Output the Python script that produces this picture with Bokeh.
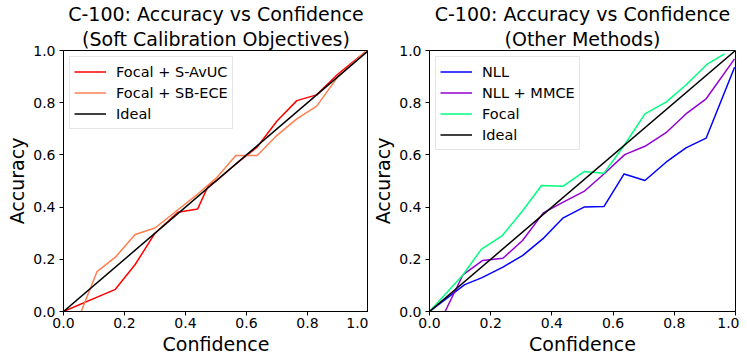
from bokeh.plotting import figure
from bokeh.layouts import row
from bokeh.models import FixedTicker, PrintfTickFormatter, Legend, LegendItem, Title
from bokeh.embed import file_html
from bokeh.resources import INLINE

# ---- data ----
ideal_x = [0.0, 1.0]
ideal_y = [0.0, 1.0]

savuc_conf = [0.0, 0.17, 0.235, 0.30, 0.375, 0.44, 0.475, 0.50, 0.57, 0.635, 0.70, 0.765, 0.83, 0.90, 0.99]
savuc_acc = [0.0, 0.085, 0.18, 0.30, 0.38, 0.393, 0.483, 0.50, 0.57, 0.63, 0.73, 0.808, 0.83, 0.91, 0.995]

sbece_conf = [0.058, 0.11, 0.17, 0.235, 0.30, 0.37, 0.44, 0.50, 0.565, 0.635, 0.70, 0.765, 0.83, 0.90, 0.99]
sbece_acc = [0.0, 0.153, 0.208, 0.295, 0.32, 0.385, 0.45, 0.51, 0.598, 0.598, 0.675, 0.738, 0.787, 0.90, 0.995]

nll_conf = [0.0, 0.115, 0.17, 0.24, 0.305, 0.37, 0.437, 0.505, 0.57, 0.636, 0.704, 0.773, 0.838, 0.904, 0.997]
nll_acc = [0.0, 0.103, 0.129, 0.17, 0.215, 0.278, 0.359, 0.40, 0.402, 0.527, 0.502, 0.572, 0.627, 0.664, 0.936]

mmce_conf = [0.051, 0.109, 0.173, 0.24, 0.304, 0.372, 0.437, 0.505, 0.57, 0.638, 0.704, 0.773, 0.838, 0.904, 0.997]
mmce_acc = [0.0, 0.140, 0.195, 0.204, 0.272, 0.378, 0.419, 0.46, 0.527, 0.601, 0.633, 0.685, 0.757, 0.815, 0.968]

focal_conf = [0.0, 0.109, 0.169, 0.238, 0.305, 0.366, 0.437, 0.505, 0.57, 0.636, 0.704, 0.773, 0.838, 0.909, 0.964]
focal_acc = [0.0, 0.14, 0.238, 0.291, 0.387, 0.483, 0.480, 0.536, 0.530, 0.636, 0.757, 0.802, 0.868, 0.949, 0.987]

tick_vals = [0.0, 0.2, 0.4, 0.6, 0.8, 1.0]

title_main = "C-100: Accuracy vs Confidence"
title_left = "(Soft Calibration Objectives)"
title_right = "(Other Methods)"

FONT = "DejaVu Sans"


def make_fig(line1, line2, border_left, border_right, frame_w):
    p = figure(output_backend="svg", toolbar_location=None,
               frame_width=frame_w, frame_height=261,
               min_border_left=border_left, min_border_right=border_right,
               min_border_top=0, min_border_bottom=0,
               x_range=(0, 1), y_range=(0, 1))
    for txt, so in ((line2, 2), (line1, 0)):
        t = Title(text=txt, align="center", text_font=FONT, text_font_size="19px",
                  text_font_style="normal", text_color="black", standoff=so,
                  text_line_height=1.0)
        p.add_layout(t, "above")
    p.xgrid.visible = False
    p.ygrid.visible = False
    p.outline_line_color = "black"
    p.outline_line_width = 1
    p.outline_line_alpha = 1
    for ax in (p.xaxis[0], p.yaxis[0]):
        ax.ticker = FixedTicker(ticks=tick_vals)
        ax.formatter = PrintfTickFormatter(format="%.1f")
        ax.axis_line_color = "black"
        ax.major_tick_line_color = "black"
        ax.major_tick_out = 4
        ax.major_tick_in = 0
        ax.minor_tick_line_color = None
        ax.major_label_text_font = FONT
        ax.major_label_text_font_size = "14px"
        ax.major_label_text_color = "black"
        ax.axis_label_text_font = FONT
        ax.axis_label_text_font_size = "19px"
        ax.axis_label_text_font_style = "normal"
        ax.axis_label_text_color = "black"
    p.xaxis.axis_label = "Confidence"
    p.yaxis.axis_label = "Accuracy"
    p.xaxis.major_label_standoff = 2
    p.xaxis.axis_label_standoff = 2
    p.yaxis.major_label_standoff = 4
    p.yaxis.axis_label_standoff = 2
    return p


def style_legend(p, items, margin):
    leg = Legend(items=items, location="top_left")
    leg.label_text_font = FONT
    leg.label_text_font_size = "14.5px"
    leg.label_text_color = "black"
    leg.glyph_width = 32
    leg.glyph_height = 21
    leg.label_height = 21
    leg.spacing = 0
    leg.padding = 4
    leg.margin = margin
    leg.label_standoff = 10
    leg.border_line_color = "#cccccc"
    leg.border_line_width = 1
    leg.background_fill_alpha = 0.8
    p.add_layout(leg)


p1 = make_fig(title_main, title_left, 63, 0, 305)
r1 = p1.line(savuc_conf, savuc_acc, line_color="#ff0000", line_width=1.5)
r2 = p1.line(sbece_conf, sbece_acc, line_color="coral", line_width=1.5)
r3 = p1.line(ideal_x, ideal_y, line_color="black", line_width=1.5)
style_legend(p1, [LegendItem(label="Focal + S-AvUC", renderers=[r1]),
                  LegendItem(label="Focal + SB-ECE", renderers=[r2]),
                  LegendItem(label="Ideal", renderers=[r3])], 6)

p2 = make_fig(title_main, title_right, 61, 4, 306)
q1 = p2.line(nll_conf, nll_acc, line_color="#0000ff", line_width=1.5)
q2 = p2.line(mmce_conf, mmce_acc, line_color="darkviolet", line_width=1.5)
q3 = p2.line(focal_conf, focal_acc, line_color="springgreen", line_width=1.5)
q4 = p2.line(ideal_x, ideal_y, line_color="black", line_width=1.5)
style_legend(p2, [LegendItem(label="NLL", renderers=[q1]),
                  LegendItem(label="NLL + MMCE", renderers=[q2]),
                  LegendItem(label="Focal", renderers=[q3]),
                  LegendItem(label="Ideal", renderers=[q4])], 6)

layout = row(p1, p2)
open("out.html", "w").write(file_html(layout, INLINE))
